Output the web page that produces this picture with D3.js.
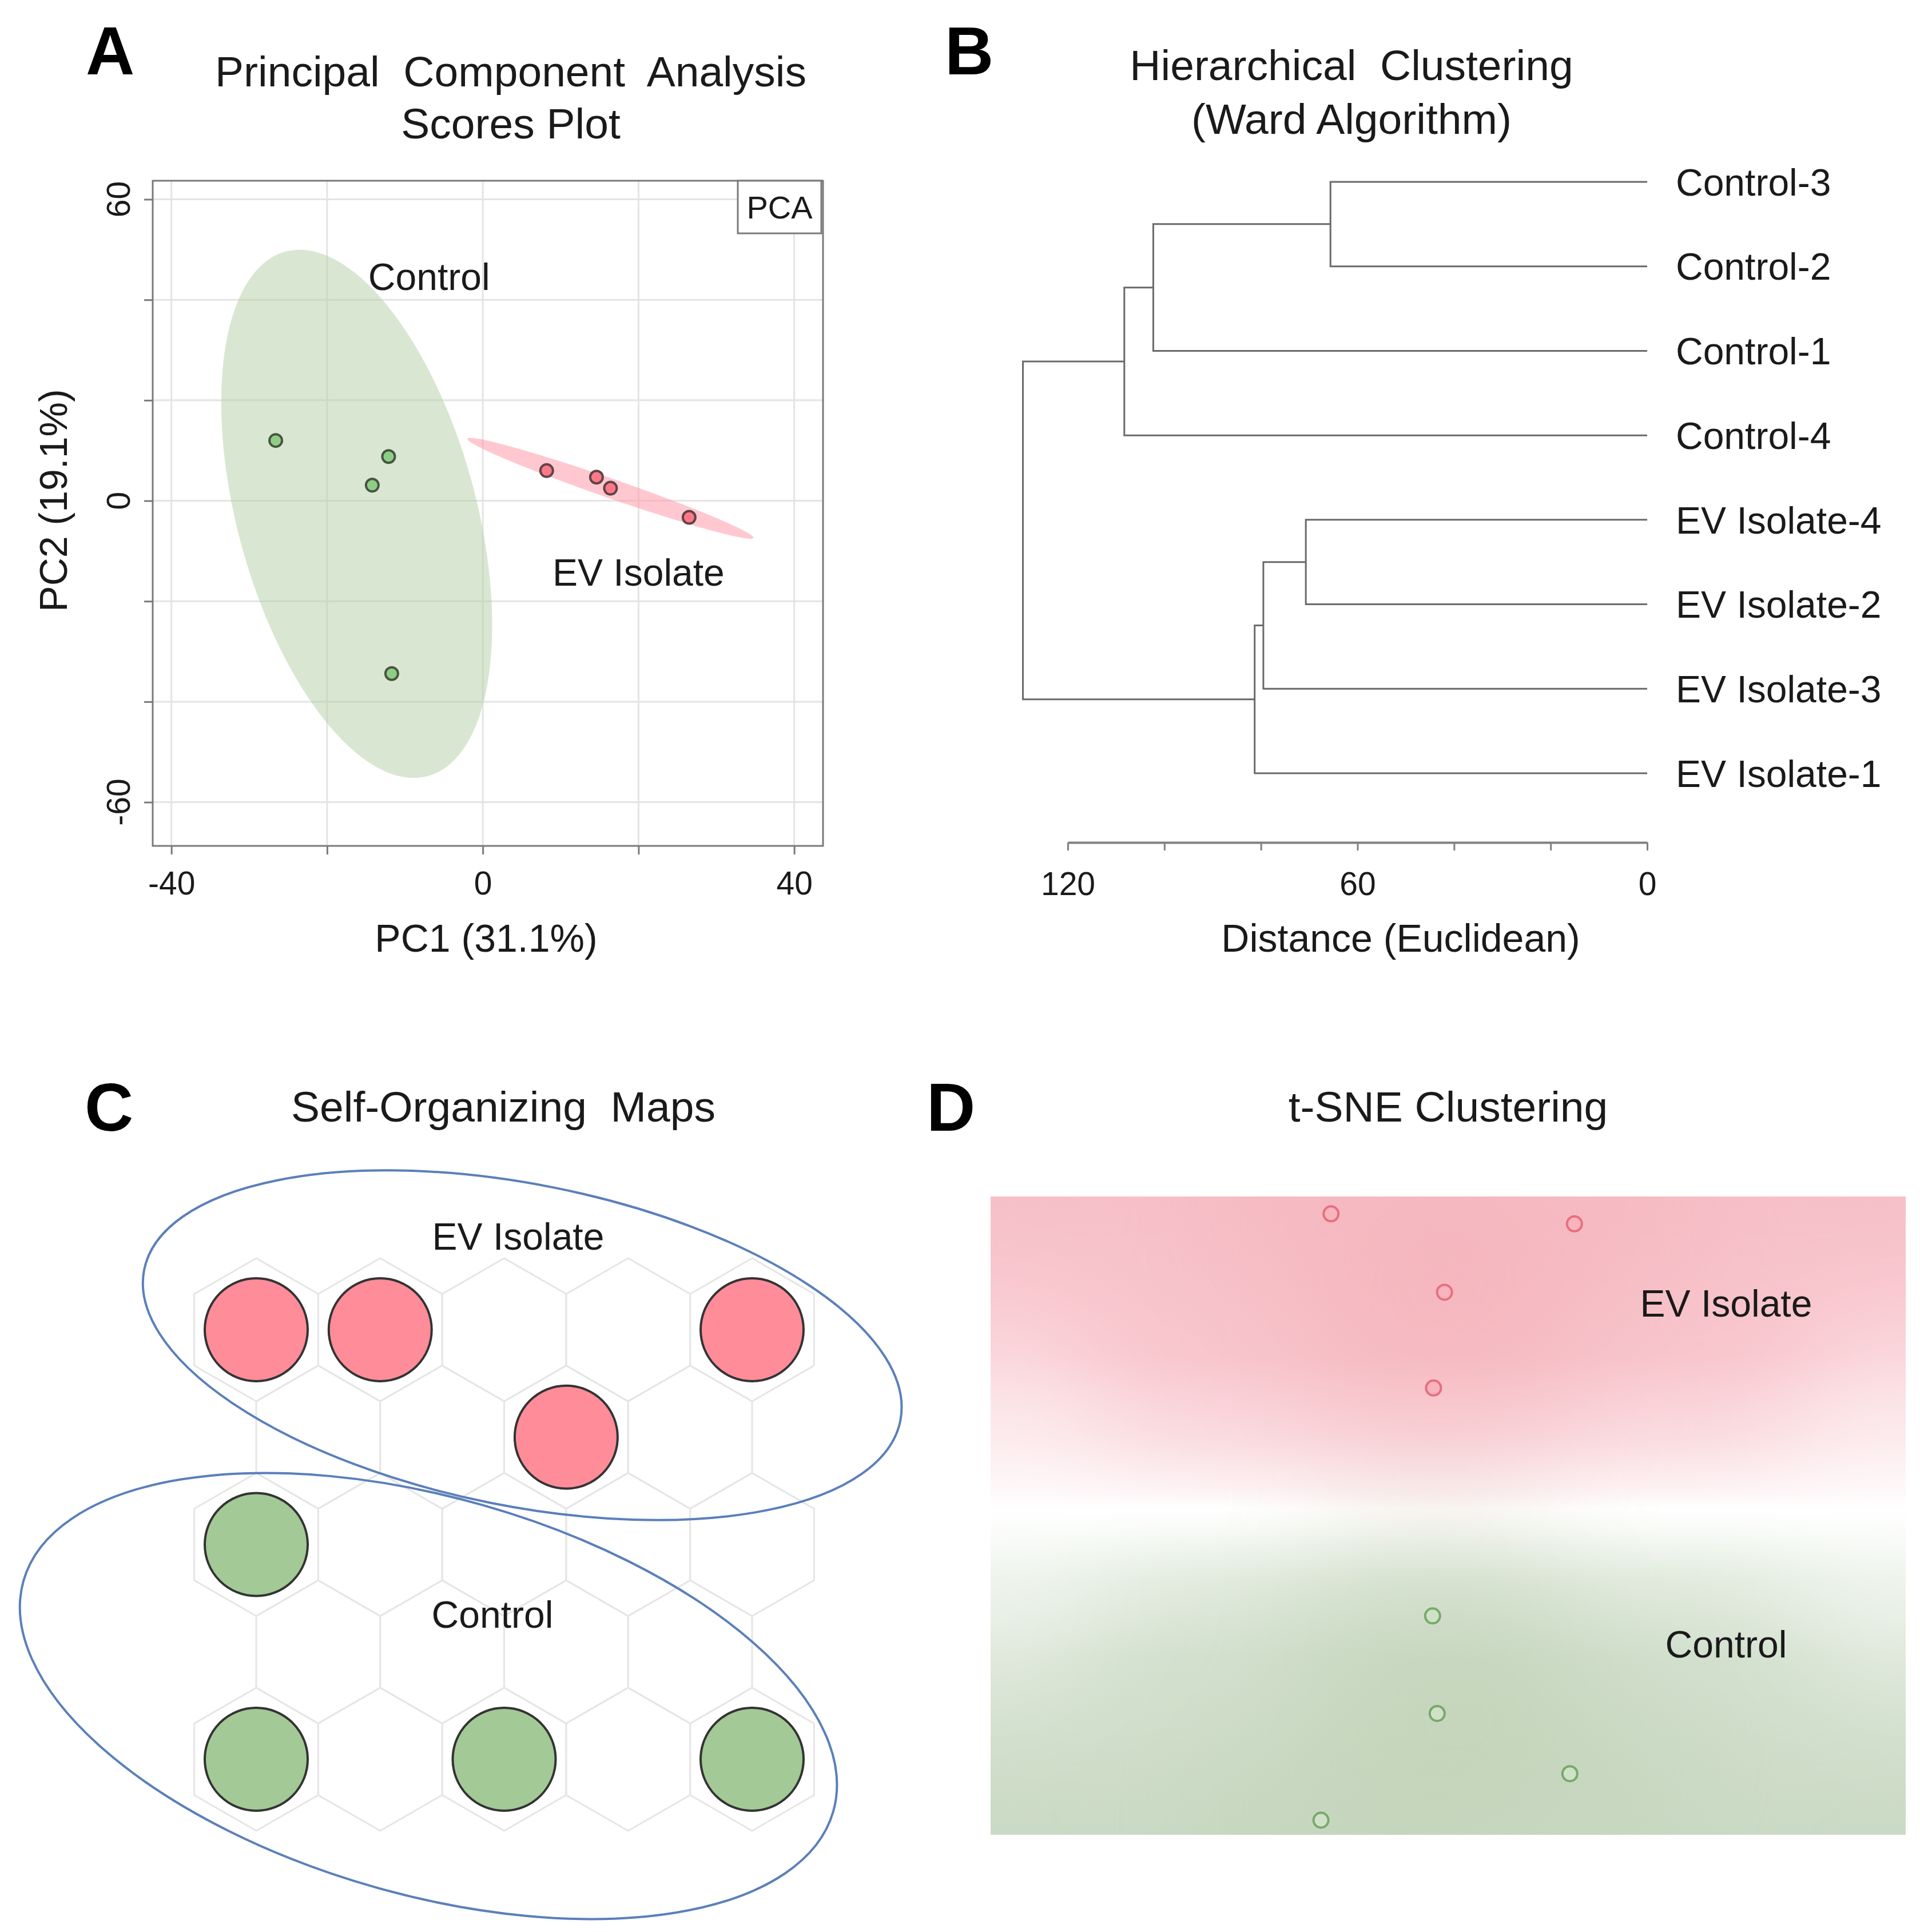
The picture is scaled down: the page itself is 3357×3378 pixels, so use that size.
<!DOCTYPE html>
<html>
<head>
<meta charset="utf-8">
<script src="https://cdn.jsdelivr.net/npm/d3@7"></script>
<style>
  body { margin: 0; background: #fff; }
  text { font-family: 'Liberation Sans', Arial, sans-serif; fill: #1a1a1a; }
</style>
</head>
<body>
<script>
// ---- Panel A : PCA scores ----
const pcaControlPC1 = [-26.6, -12.1, -14.2, -11.7];
const pcaControlPC2 = [12.0, 8.8, 3.1, -34.4];
const pcaEVPC1 = [8.2, 14.6, 16.4, 26.5];
const pcaEVPC2 = [6.0, 4.7, 2.5, -3.3];
const pcaXTicks = [-40, -20, 0, 20, 40];
const pcaYTicks = [-60, -40, -20, 0, 20, 40, 60];
const pcaXLabels = [-40, 0, 40];
const pcaYLabels = [-60, 0, 60];
// confidence ellipses: centre, half major axis vector, half minor axis vector (data units)
const pcaEllipses = [
  {group: 'Control', center: [-16.2, -2.6], major: [9.15, -52.2], minor: [-14.8, -6.24]},
  {group: 'EV', center: [16.4, 2.47], major: [18.36, -9.87], minor: [-0.41, -1.83]}
];

// ---- Panel B : dendrogram ----
const leaves = ['Control-3', 'Control-2', 'Control-1', 'Control-4',
  'EV Isolate-4', 'EV Isolate-2', 'EV Isolate-3', 'EV Isolate-1'];
const merges = [
  {id: 'm1', left: 'Control-3', right: 'Control-2', height: 65.6},
  {id: 'm2', left: 'm1', right: 'Control-1', height: 102.3},
  {id: 'm3', left: 'm2', right: 'Control-4', height: 108.3},
  {id: 'm4', left: 'EV Isolate-4', right: 'EV Isolate-2', height: 70.7},
  {id: 'm5', left: 'm4', right: 'EV Isolate-3', height: 79.5},
  {id: 'm6', left: 'm5', right: 'EV Isolate-1', height: 81.3},
  {id: 'root', left: 'm3', right: 'm6', height: 129.3}
];
const distTicks = [120, 100, 80, 60, 40, 20, 0];
const distLabels = [120, 60, 0];

// ---- Panel C : self-organizing map ----
const somCols = [5, 4, 5, 4, 5];           // hexes per row
const somEV = [[0, 0], [0, 1], [0, 4], [1, 2]];        // [row, col]
const somControl = [[2, 0], [4, 0], [4, 2], [4, 4]];
// cluster outlines in grid units
const somEllipses = [
  {name: 'EV Isolate', cx: 2.146, cy: 0.144, a: 3.11, b: 1.297, angle: 11.3},
  {name: 'Control', cx: 1.389, cy: 3.411, a: 3.396, b: 1.601, angle: 15.9}
];

// ---- Panel D : t-SNE ----
const tsneEVx = [37.2, 63.8, 49.6, 48.4];
const tsneEVy = [68.1, 67.0, 59.5, 49.0];
const tsneCtlX = [48.3, 48.8, 63.3, 36.1];
const tsneCtlY = [24.0, 13.3, 6.7, 1.6];

const W = 3357, H = 3378;
const svg = d3.select('body').append('svg')
  .attr('width', W).attr('height', H);
const defs = svg.append('defs');

// panel letters and titles
const letters = [
  {t: 'A', x: 150, y: 130}, {t: 'B', x: 1652, y: 130},
  {t: 'C', x: 148, y: 1977}, {t: 'D', x: 1620, y: 1977}
];
svg.selectAll('text.letter').data(letters).enter().append('text')
  .attr('class', 'letter')
  .attr('x', d => d.x).attr('y', d => d.y)
  .style('font-size', '118px').style('font-weight', 'bold').style('fill', '#000')
  .text(d => d.t);

const titles = [
  {t: 'Principal  Component  Analysis', x: 893, y: 151},
  {t: 'Scores Plot', x: 893, y: 242},
  {t: 'Hierarchical  Clustering', x: 2363, y: 140},
  {t: '(Ward Algorithm)', x: 2363, y: 234},
  {t: 'Self-Organizing  Maps', x: 880, y: 1961},
  {t: 't-SNE Clustering', x: 2532, y: 1961}
];
svg.selectAll('text.title').data(titles).enter().append('text')
  .attr('class', 'title')
  .attr('x', d => d.x).attr('y', d => d.y)
  .attr('text-anchor', 'middle')
  .style('font-size', '75px').style('white-space', 'pre')
  .text(d => d.t);

// ================= Panel A =================
const xA = d3.scaleLinear().domain([-42.4, 43.7]).range([267, 1439]);
const yA = d3.scaleLinear().domain([-68.7, 63.7]).range([1479, 316]);
const gA = svg.append('g');

// grid
gA.selectAll('line.gx').data(pcaXTicks).enter().append('line')
  .attr('x1', d => xA(d)).attr('x2', d => xA(d))
  .attr('y1', yA.range()[1]).attr('y2', yA.range()[0])
  .attr('stroke', '#e4e4e4').attr('stroke-width', 3);
gA.selectAll('line.gy').data(pcaYTicks).enter().append('line')
  .attr('y1', d => yA(d)).attr('y2', d => yA(d))
  .attr('x1', xA.range()[0]).attr('x2', xA.range()[1])
  .attr('stroke', '#e4e4e4').attr('stroke-width', 3);

// ellipses
const ellipseLine = d3.line().x(d => xA(d[0])).y(d => yA(d[1])).curve(d3.curveLinearClosed);
function ellipsePts(e) {
  return d3.range(0, 360, 2).map(deg => {
    const t = deg * Math.PI / 180;
    return [e.center[0] + e.major[0] * Math.cos(t) + e.minor[0] * Math.sin(t),
            e.center[1] + e.major[1] * Math.cos(t) + e.minor[1] * Math.sin(t)];
  });
}
gA.selectAll('path.ell').data(pcaEllipses).enter().append('path')
  .attr('d', d => ellipseLine(ellipsePts(d)))
  .attr('fill', d => d.group === 'Control' ? '#b4d0a6' : '#ff9aaa')
  .attr('fill-opacity', d => d.group === 'Control' ? 0.5 : 0.55);

// points
const pcaControl = pcaControlPC1.map((v, i) => [v, pcaControlPC2[i]]);
const pcaEV = pcaEVPC1.map((v, i) => [v, pcaEVPC2[i]]);
gA.selectAll('circle.c').data(pcaControl).enter().append('circle')
  .attr('cx', d => xA(d[0])).attr('cy', d => yA(d[1])).attr('r', 11)
  .attr('fill', '#8fcd86').attr('stroke', '#44573f').attr('stroke-width', 4);
gA.selectAll('circle.e').data(pcaEV).enter().append('circle')
  .attr('cx', d => xA(d[0])).attr('cy', d => yA(d[1])).attr('r', 11)
  .attr('fill', '#ff7888').attr('stroke', '#5e4448').attr('stroke-width', 4);

// box
gA.append('rect')
  .attr('x', xA.range()[0]).attr('y', yA.range()[1])
  .attr('width', xA.range()[1] - xA.range()[0])
  .attr('height', yA.range()[0] - yA.range()[1])
  .attr('fill', 'none').attr('stroke', '#7a7a7a').attr('stroke-width', 3);

// axes
const axA = gA.append('g').attr('transform', `translate(0,${yA.range()[0]})`)
  .call(d3.axisBottom(xA).tickValues(pcaXTicks).tickSize(15).tickPadding(30)
    .tickFormat(d => pcaXLabels.includes(d) ? String(d) : ''));
axA.select('.domain').remove();
axA.selectAll('line').attr('stroke', '#7a7a7a').attr('stroke-width', 3);
axA.selectAll('text').style('font-size', '57px').style('font-family', null).attr('fill', '#1a1a1a');

const ayA = gA.append('g').attr('transform', `translate(${xA.range()[0]},0)`)
  .call(d3.axisLeft(yA).tickValues(pcaYTicks).tickSize(15).tickFormat(''));
ayA.select('.domain').remove();
ayA.selectAll('line').attr('stroke', '#7a7a7a').attr('stroke-width', 3);
gA.selectAll('text.ylab').data(pcaYLabels).enter().append('text')
  .attr('transform', d => `translate(207,${yA(d)}) rotate(-90)`)
  .attr('text-anchor', 'middle').attr('dy', '0.35em')
  .style('font-size', '57px')
  .text(d => String(d));

gA.append('text').attr('x', 850).attr('y', 1664).attr('text-anchor', 'middle')
  .style('font-size', '68px').text('PC1 (31.1%)');
gA.append('text').attr('transform', 'translate(93,875) rotate(-90)')
  .attr('text-anchor', 'middle').attr('dy', '0.35em')
  .style('font-size', '68px').text('PC2 (19.1%)');

// legend box
gA.append('rect').attr('x', 1290).attr('y', yA.range()[1]).attr('width', 146).attr('height', 92)
  .attr('fill', '#fff').attr('stroke', '#7a7a7a').attr('stroke-width', 3);
gA.append('text').attr('x', 1363).attr('y', 382).attr('text-anchor', 'middle')
  .style('font-size', '56px').text('PCA');

gA.append('text').attr('x', xA(-6.9)).attr('y', yA(42.0)).attr('text-anchor', 'middle')
  .style('font-size', '66px').text('Control');
gA.append('text').attr('x', xA(20)).attr('y', yA(-16.9)).attr('text-anchor', 'middle')
  .style('font-size', '66px').text('EV Isolate');

// ================= Panel B =================
const xB = d3.scaleLinear().domain([120, 0]).range([1867, 2880]);
const yB = d3.scalePoint().domain(leaves).range([318, 1352]);
const gB = svg.append('g');

const nodePos = {};
leaves.forEach(l => { nodePos[l] = {x: xB(0), y: yB(l)}; });
merges.forEach(m => {
  nodePos[m.id] = {x: xB(m.height), y: (nodePos[m.left].y + nodePos[m.right].y) / 2};
});
gB.selectAll('path.link').data(merges).enter().append('path')
  .attr('d', m => {
    const a = nodePos[m.left], b = nodePos[m.right], x = xB(m.height);
    return `M${a.x},${a.y}H${x}V${b.y}H${b.x}`;
  })
  .attr('fill', 'none').attr('stroke', '#6a6a6a').attr('stroke-width', 3);

gB.selectAll('text.leaf').data(leaves).enter().append('text')
  .attr('x', 2930).attr('y', d => yB(d)).attr('dy', '0.36em')
  .style('font-size', '66px').text(d => d);

const axB = gB.append('g').attr('transform', 'translate(0,1473)')
  .call(d3.axisBottom(xB).tickValues(distTicks).tickSize(14).tickSizeOuter(0).tickPadding(38)
    .tickFormat(d => distLabels.includes(d) ? String(d) : ''));
axB.select('.domain').attr('stroke', '#808080').attr('stroke-width', 4);
axB.selectAll('line').attr('stroke', '#808080').attr('stroke-width', 3);
axB.selectAll('text').style('font-size', '57px').style('font-family', null).attr('fill', '#1a1a1a');
gB.append('text').attr('x', 2449).attr('y', 1664).attr('text-anchor', 'middle')
  .style('font-size', '68px').text('Distance (Euclidean)');

// ================= Panel C =================
const xS = d3.scaleLinear().domain([0, 4]).range([448, 1315]);
const yS = d3.scaleLinear().domain([0, 4]).range([2325, 3076]);
const hexW = xS(1) - xS(0);
const hexR = hexW / Math.sqrt(3);
const hexX = (r, c) => xS(c + (r % 2) * 0.5);
const hexY = r => yS(r);
const gC = svg.append('g');

const hexes = [];
somCols.forEach((n, r) => d3.range(n).forEach(c => hexes.push([r, c])));
const hexLine = d3.line().curve(d3.curveLinearClosed);
function hexPath(cx, cy) {
  return hexLine(d3.range(6).map(k => {
    const a = (-90 + 60 * k) * Math.PI / 180;
    return [cx + hexR * Math.cos(a), cy + hexR * Math.sin(a)];
  }));
}
gC.selectAll('path.hex').data(hexes).enter().append('path')
  .attr('d', d => hexPath(hexX(d[0], d[1]), hexY(d[0])))
  .attr('fill', 'none').attr('stroke', '#e6e6e6').attr('stroke-width', 3);

gC.selectAll('circle.ev').data(somEV).enter().append('circle')
  .attr('cx', d => hexX(d[0], d[1])).attr('cy', d => hexY(d[0])).attr('r', 90)
  .attr('fill', '#ff8c99').attr('stroke', '#333').attr('stroke-width', 4);
gC.selectAll('circle.ctl').data(somControl).enter().append('circle')
  .attr('cx', d => hexX(d[0], d[1])).attr('cy', d => hexY(d[0])).attr('r', 90)
  .attr('fill', '#a2c996').attr('stroke', '#333').attr('stroke-width', 4);

gC.selectAll('ellipse.clu').data(somEllipses).enter().append('ellipse')
  .attr('transform', d => `translate(${xS(d.cx)},${yS(d.cy)}) rotate(${d.angle})`)
  .attr('rx', d => d.a * hexW).attr('ry', d => d.b * hexW)
  .attr('fill', 'none').attr('stroke', '#5b7fba').attr('stroke-width', 4);

gC.append('text').attr('x', 906).attr('y', 2185).attr('text-anchor', 'middle')
  .style('font-size', '66px').text('EV Isolate');
gC.append('text').attr('x', 861).attr('y', 2846).attr('text-anchor', 'middle')
  .style('font-size', '66px').text('Control');

// ================= Panel D =================
const xD = d3.scaleLinear().domain([0, 100]).range([1732, 3332]);
const yD = d3.scaleLinear().domain([0, 70]).range([3208, 2092]);
const gD = svg.append('g');

defs.append('clipPath').attr('id', 'clipD').append('rect')
  .attr('x', xD(0)).attr('y', yD(70)).attr('width', xD(100) - xD(0)).attr('height', yD(0) - yD(70));
const bgGrad = defs.append('linearGradient').attr('id', 'bgD')
  .attr('x1', 0).attr('y1', 0).attr('x2', 0).attr('y2', 1);
[[0, '#f7c0c8'], [0.25, '#f8c6cd'], [0.38, '#fadce0'], [0.46, '#fdf2f4'], [0.49, '#ffffff'],
 [0.52, '#f8fbf7'], [0.60, '#e2ebde'], [0.72, '#d3e0ce'], [1, '#cbdac5']]
  .forEach(s => bgGrad.append('stop').attr('offset', s[0]).attr('stop-color', s[1]));
defs.append('filter').attr('id', 'blurD')
  .attr('x', '-50%').attr('y', '-50%').attr('width', '200%').attr('height', '200%')
  .append('feGaussianBlur').attr('stdDeviation', 100);

const dClip = gD.append('g').attr('clip-path', 'url(#clipD)');
dClip.append('rect')
  .attr('x', xD(0)).attr('y', yD(70)).attr('width', xD(100) - xD(0)).attr('height', yD(0) - yD(70))
  .attr('fill', 'url(#bgD)');
const blobs = dClip.append('g').attr('filter', 'url(#blurD)');
// paler flanks on the left and right
blobs.selectAll('ellipse.side').data([[0, 36], [100, 36]]).enter().append('ellipse')
  .attr('cx', d => xD(d[0])).attr('cy', d => yD(d[1])).attr('rx', 230).attr('ry', 330)
  .attr('fill', '#fff').attr('fill-opacity', 0.45);
const tsneEV = tsneEVx.map((v, i) => [v, tsneEVy[i]]);
const tsneCtl = tsneCtlX.map((v, i) => [v, tsneCtlY[i]]);
blobs.selectAll('ellipse.re').data(tsneEV).enter().append('ellipse')
  .attr('cx', d => xD(d[0])).attr('cy', d => yD(d[1])).attr('rx', 260).attr('ry', 170)
  .attr('fill', '#f0a2af').attr('fill-opacity', 0.22);
blobs.selectAll('ellipse.ge').data(tsneCtl).enter().append('ellipse')
  .attr('cx', d => xD(d[0])).attr('cy', d => yD(d[1])).attr('rx', 260).attr('ry', 170)
  .attr('fill', '#b6ccad').attr('fill-opacity', 0.25);

gD.selectAll('circle.re').data(tsneEV).enter().append('circle')
  .attr('cx', d => xD(d[0])).attr('cy', d => yD(d[1])).attr('r', 13)
  .attr('fill', '#f8b4bd').attr('stroke', '#e6707f').attr('stroke-width', 4);
gD.selectAll('circle.ge').data(tsneCtl).enter().append('circle')
  .attr('cx', d => xD(d[0])).attr('cy', d => yD(d[1])).attr('r', 13)
  .attr('fill', '#cfe2c8').attr('stroke', '#78a86c').attr('stroke-width', 4);

gD.append('text').attr('x', 3018).attr('y', 2302).attr('text-anchor', 'middle')
  .style('font-size', '66px').text('EV Isolate');
gD.append('text').attr('x', 3018).attr('y', 2898).attr('text-anchor', 'middle')
  .style('font-size', '66px').text('Control');
</script>
</body>
</html>
